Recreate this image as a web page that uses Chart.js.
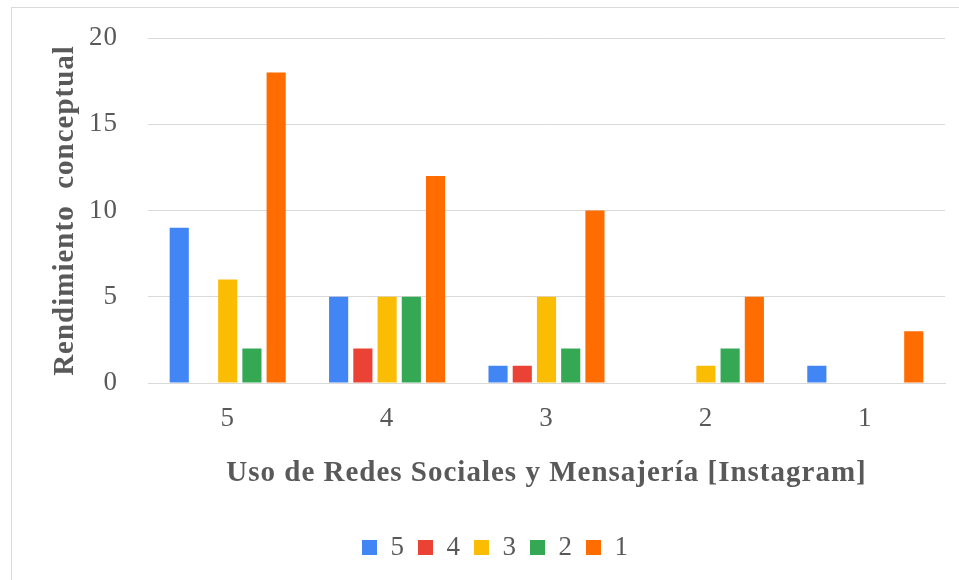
<!DOCTYPE html>
<html>
<head>
<meta charset="utf-8">
<script src="https://cdn.jsdelivr.net/npm/chart.js@4"></script>
<style>
  html, body { margin: 0; padding: 0; background: #fff; }
  #marco { position: absolute; left: 0; top: 0; width: 959px; height: 580px; overflow: hidden; }
  #borde { position: absolute; left: 11px; top: 7px; width: 1000px; height: 700px; border: 1px solid #d9d9d9; }
  #grafico { position: absolute; left: 0; top: 0; }
</style>
</head>
<body>
<div id="marco">
  <div id="borde"></div>
  <canvas id="grafico" width="959" height="580"></canvas>
</div>
<script>
// categorias del eje x (uso de Instagram)
const categorias = ["5", "4", "3", "2", "1"];

// una serie por nivel de rendimiento
const serie5 = [9, 5, 1, 0, 1];
const serie4 = [0, 2, 1, 0, 0];
const serie3 = [6, 5, 5, 1, 0];
const serie2 = [2, 5, 2, 2, 0];
const serie1 = [18, 12, 10, 5, 3];

const ticksY = [0, 5, 10, 15, 20];

const gris = "#595959";
const fuente = "'Liberation Serif', 'Times New Roman', serif";

// un poco de espacio entre letras, como en la imagen
const espaciado = {
  id: 'espaciado',
  beforeLayout(chart) { chart.ctx.letterSpacing = '1px'; },
  beforeDraw(chart) { chart.ctx.letterSpacing = '1px'; }
};

const ctx = document.getElementById('grafico');

new Chart(ctx, {
  type: 'bar',
  data: {
    labels: categorias,
    datasets: [
      { label: '5', data: serie5, backgroundColor: '#4285F4' },
      { label: '4', data: serie4, backgroundColor: '#EA4335' },
      { label: '3', data: serie3, backgroundColor: '#FBBC04' },
      { label: '2', data: serie2, backgroundColor: '#34A853' },
      { label: '1', data: serie1, backgroundColor: '#FF6D01' }
    ]
  },
  plugins: [espaciado],
  options: {
    responsive: false,
    animation: false,
    devicePixelRatio: 1,
    layout: { padding: { top: 38, right: 14, left: 46, bottom: 9 } },
    datasets: {
      bar: { categoryPercentage: 0.76, barPercentage: 0.79 }
    },
    plugins: {
      tooltip: { enabled: false },
      legend: {
        position: 'bottom',
        labels: {
          color: gris,
          font: { family: fuente, size: 27 },
          boxWidth: 15,
          boxHeight: 15,
          padding: 13
        }
      }
    },
    scales: {
      x: {
        grid: { display: false, drawTicks: false },
        border: { color: '#d9d9d9' },
        ticks: { color: gris, font: { family: fuente, size: 27 }, padding: 20 },
        title: {
          display: true,
          text: 'Uso de Redes Sociales y Mensajería [Instagram]',
          color: gris,
          font: { family: fuente, size: 29, weight: 'bold' },
          padding: { top: 0, bottom: 30 }
        },
        afterFit: function(scale) { scale.height = 138; }
      },
      y: {
        min: 0,
        max: 20,
        afterBuildTicks: function(scale) {
          scale.ticks = ticksY.map(v => ({ value: v }));
        },
        // marcas invisibles para separar los numeros de la rejilla
        grid: { color: '#d9d9d9', drawTicks: true, tickLength: 22, tickColor: 'rgba(0,0,0,0)' },
        border: { display: false },
        ticks: { color: gris, font: { family: fuente, size: 27 }, padding: 8 },
        title: {
          display: true,
          text: 'Rendimiento  conceptual',
          color: gris,
          font: { family: fuente, size: 29, weight: 'bold' },
          padding: { top: 2, bottom: 0 }
        },
        afterFit: function(scale) { scale.width = 102; }
      }
    }
  }
});
</script>
</body>
</html>
